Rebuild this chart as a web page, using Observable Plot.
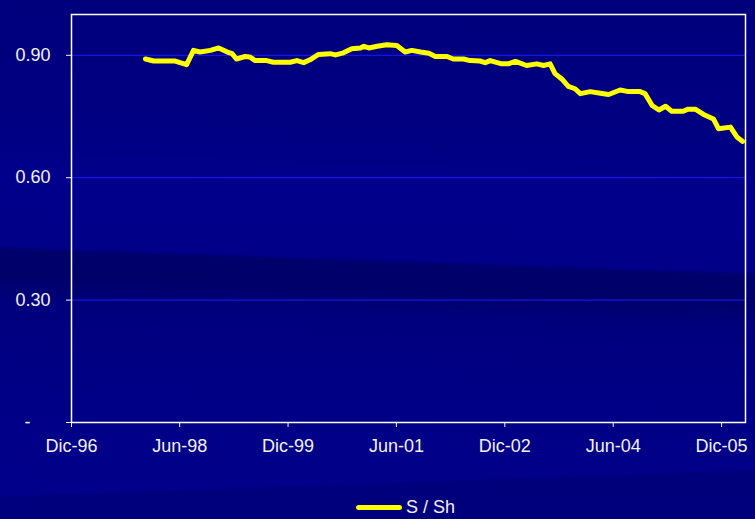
<!DOCTYPE html>
<html>
<head>
<meta charset="utf-8">
<script src="https://cdn.jsdelivr.net/npm/d3@7"></script>
<script src="https://cdn.jsdelivr.net/npm/@observablehq/plot@0.6"></script>
<style>
  html, body { margin: 0; padding: 0; }
  #page {
    position: relative;
    width: 755px;
    height: 519px;
    overflow: hidden;
    font-family: "Liberation Sans", Arial, sans-serif;
    background:
      linear-gradient(178deg, rgba(0,0,0,0) 0px, rgba(0,0,0,0) 495px, rgba(0,0,50,0.16) 498px, rgba(0,0,50,0.16) 560px),
      linear-gradient(182deg,
        #00007c 0px,
        #000082 150px,
        #00008c 200px,
        #000088 272px,
        #00006c 276px,
        #000068 300px,
        #00007e 330px,
        #000086 420px,
        #00008c 545px);
  }
  #legend {
    position: absolute;
    left: 68px;
    width: 675px;
    top: 494px;
    height: 26px;
    display: flex;
    justify-content: center;
    align-items: center;
    color: #f2f2f2;
    font-size: 18px;
  }
  #legend .swatch {
    display: inline-block;
    width: 46px;
    height: 5px;
    border-radius: 3px;
    background: #ffff00;
    margin-right: 4px;
  }
</style>
</head>
<body>
<div id="page">
  <div id="chart"></div>
  <div id="legend"><span class="swatch"></span><span>S / Sh</span></div>
</div>
<script>
// S / Sh ratio, monthly series
const dates = [
  "1997-12-10","1998-01-20","1998-05-10","1998-06-03","1998-07-06","1998-08-10",
  "1998-09-12","1998-11-03","1998-12-15","1999-01-28","1999-02-21","1999-03-15",
  "1999-04-28","1999-05-21","1999-06-18","1999-08-15","1999-09-18","1999-12-12",
  "2000-01-15","2000-02-18","2000-03-21","2000-05-03","2000-07-01","2000-07-28",
  "2000-09-06","2000-10-18","2000-12-01","2000-12-18","2001-01-12","2001-02-24",
  "2001-04-12","2001-06-03","2001-07-15","2001-08-18","2001-10-01","2001-11-12",
  "2001-12-15","2002-02-12","2002-03-15","2002-05-06","2002-06-09","2002-07-28",
  "2002-08-24","2002-09-18","2002-11-15","2002-12-18","2003-01-24","2003-03-21",
  "2003-05-12","2003-06-15","2003-07-18","2003-08-12","2003-09-15","2003-10-18",
  "2003-11-21","2003-12-18","2004-02-06","2004-03-28","2004-05-09","2004-07-06",
  "2004-08-18","2004-10-15","2004-11-09","2004-12-15","2005-01-18","2005-02-21",
  "2005-03-24","2005-05-21","2005-06-15","2005-07-21","2005-09-01","2005-10-21",
  "2005-11-15","2006-01-15","2006-02-18","2006-03-18"
];
const values = [
  0.891,0.886,0.886,0.882,0.877,0.912,
  0.908,0.912,0.918,0.908,0.904,0.891,
  0.897,0.896,0.887,0.887,0.883,0.883,
  0.887,0.882,0.889,0.902,0.904,0.901,
  0.906,0.916,0.918,0.922,0.918,0.922,
  0.926,0.924,0.908,0.912,0.908,0.905,
  0.897,0.897,0.891,0.891,0.887,0.886,
  0.882,0.887,0.879,0.879,0.885,0.875,
  0.879,0.875,0.879,0.855,0.842,0.824,
  0.818,0.806,0.811,0.807,0.804,0.815,
  0.811,0.811,0.806,0.777,0.766,0.775,
  0.763,0.763,0.768,0.768,0.755,0.744,
  0.720,0.724,0.699,0.689
];

// axis ticks
const xTickDates = ["1996-12-01","1998-06-01","1999-12-01","2001-06-01","2002-12-01","2004-06-01","2005-12-01"];
const xTickLabels = ["Dic-96","Jun-98","Dic-99","Jun-01","Dic-02","Jun-04","Dic-05"];
const yTicks = [0, 0.3, 0.6, 0.9];
const xDomain = ["1996-12-01", "2006-04-01"];

const parse = d3.utcParse("%Y-%m-%d");
const series = dates.map((d, i) => ({date: parse(d), value: values[i]}));
const xTicks = xTickDates.map(parse);
const labelOf = new Map(xTicks.map((d, i) => [+d, xTickLabels[i]]));

const chart = Plot.plot({
  width: 755,
  height: 488,
  marginTop: 14,
  marginLeft: 71,
  marginRight: 10,
  marginBottom: 66,
  style: {
    background: "transparent",
    color: "#f2f2f2",
    fontFamily: "'Liberation Sans', Arial, sans-serif",
    fontSize: "18px",
    overflow: "visible"
  },
  x: {type: "utc", domain: xDomain.map(parse)},
  y: {domain: [0, 1]},
  marks: [
    Plot.gridY([0.3, 0.6, 0.9], {stroke: "#1a1aff", strokeOpacity: 1, strokeWidth: 1}),
    Plot.axisY({
      ticks: yTicks,
      tickSize: 5,
      tickPadding: 16,
      fontSize: 18,
      label: null,
      tickFormat: v => v === 0 ? "-\u2007\u2007" : v.toFixed(2)
    }),
    Plot.axisX({
      ticks: xTicks,
      tickSize: 5,
      tickPadding: 12,
      fontSize: 18,
      label: null,
      tickFormat: d => labelOf.get(+d)
    }),
    Plot.frame({stroke: "white", strokeWidth: 1.5}),
    Plot.line(series, {
      x: "date",
      y: "value",
      stroke: "#ffff00",
      strokeWidth: 5,
      strokeLinejoin: "round",
      strokeLinecap: "round"
    })
  ]
});
document.getElementById("chart").appendChild(chart);
</script>
</body>
</html>
